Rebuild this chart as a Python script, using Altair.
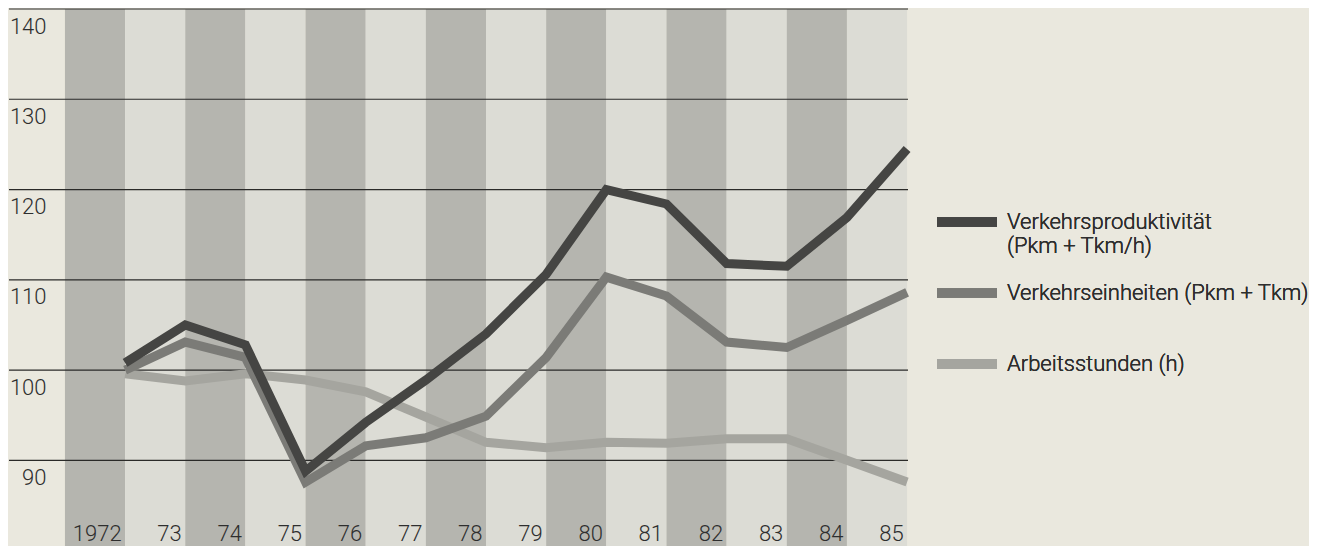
import json
import altair as alt
import pandas as pd

# ---------------- data ----------------
years = list(range(1972, 1986))
x_labels = ["1972", "73", "74", "75", "76", "77", "78", "79", "80", "81", "82", "83", "84", "85"]
y_ticks = [90, 100, 110, 120, 130, 140]

produktivitaet = [100.8, 105.0, 102.8, 88.8, 94.2, 98.9, 104.0, 110.6, 120.0, 118.4, 111.8, 111.5, 116.9, 124.5]
einheiten = [100.0, 103.1, 101.4, 87.6, 91.6, 92.5, 94.9, 101.4, 110.3, 108.2, 103.1, 102.5, 105.5, 108.6]
stunden = [99.6, 98.8, 99.6, 98.9, 97.6, 94.8, 92.0, 91.4, 92.0, 91.9, 92.4, 92.4, 90.0, 87.6]

series_names = ["Verkehrsproduktivität (Pkm + Tkm/h)", "Verkehrseinheiten (Pkm + Tkm)", "Arbeitsstunden (h)"]
legend_lines = [["Verkehrsproduktivität", "(Pkm + Tkm/h)"], ["Verkehrseinheiten (Pkm + Tkm)", ""], ["Arbeitsstunden (h)", ""]]
series_colors = ["#454543", "#7b7b77", "#a5a59f"]

band_shades = ["dark" if y % 2 == 0 else "light" for y in years]
band_top = 140
band_bottom = 80

# ---------------- tables ----------------
lines_df = pd.DataFrame({
    "year": years * 3,
    "value": produktivitaet + einheiten + stunden,
    "series": [series_names[0]] * 14 + [series_names[1]] * 14 + [series_names[2]] * 14,
})
bands_df = pd.DataFrame({
    "start": [y - 1 for y in years],
    "end": years,
    "shade": band_shades,
    "top": [band_top] * len(years),
    "bottom": [band_bottom] * len(years),
})
grid_df = pd.DataFrame({"tick": y_ticks})

FONT = "Roboto"
WEIGHT = 300
TXT = "#2e2e2e"

x_scale = alt.Scale(domain=[1970.07, 1985.015], nice=False, zero=False)
y_scale = alt.Scale(domain=[80.4, 140], nice=False, zero=False)

x_axis = alt.Axis(
    values=years, orient="bottom", offset=-7, ticks=False, tickSize=0, domain=False, grid=False,
    labelPadding=0, labelAlign="right", labelBaseline="alphabetic", labelOffset=-4,
    labelFontSize=22, labelFont=FONT, labelFontWeight=WEIGHT, labelColor=TXT,
    labelOverlap=False, labelFlush=False, zindex=2,
    labelExpr=json.dumps(x_labels) + "[datum.value - 1972]", title=None,
)
y_axis = alt.Axis(
    values=y_ticks, orient="left", offset=-37, ticks=False, tickSize=0, domain=False, grid=False,
    labelPadding=0, labelAlign="right", labelBaseline="middle", labelOffset=17,
    labelFontSize=22, labelFont=FONT, labelFontWeight=WEIGHT, labelColor=TXT,
    labelOverlap=False, labelFlush=False, zindex=2, title=None,
)

legend_expr = ""
for name, lines in zip(series_names[:-1], legend_lines[:-1]):
    legend_expr += "datum.label == " + json.dumps(name) + " ? " + json.dumps(lines) + " : "
legend_expr += json.dumps(legend_lines[-1])

legend = alt.Legend(
    title=None, orient="none", legendX=923, legendY=178, direction="vertical",
    symbolType="stroke", symbolSize=3600, symbolStrokeWidth=9.5, symbolOpacity=1,
    labelFontSize=22, labelFont=FONT, labelFontWeight=WEIGHT, labelColor=TXT,
    labelOffset=5, labelLimit=600,
    labelBaseline="middle", rowPadding=1, padding=0, labelExpr=legend_expr,
)

bands = alt.Chart(bands_df).mark_rect(clip=True).encode(
    x=alt.X("start:Q", scale=x_scale, axis=x_axis),
    x2="end:Q",
    y=alt.Y("top:Q", scale=y_scale, axis=y_axis),
    y2="bottom:Q",
    color=alt.Color("shade:N", scale=alt.Scale(domain=["dark", "light"], range=["#b5b5af", "#dcdcd5"]), legend=None),
)

grid = alt.Chart(grid_df).mark_rule(color="#2a2a28", strokeWidth=1.2).encode(
    y=alt.Y("tick:Q", scale=y_scale, axis=y_axis),
)

def line_layer(name):
    return alt.Chart(lines_df).transform_filter(
        alt.datum.series == name
    ).mark_line(strokeWidth=9, strokeJoin="miter", strokeCap="butt").encode(
        x=alt.X("year:Q", scale=x_scale, axis=x_axis),
        y=alt.Y("value:Q", scale=y_scale, axis=y_axis),
        color=alt.Color("series:N", scale=alt.Scale(domain=series_names, range=series_colors), legend=legend),
    )

chart = alt.layer(
    bands, grid, line_layer(series_names[2]), line_layer(series_names[1]), line_layer(series_names[0])
).resolve_scale(color="independent").properties(
    width=899, height=538, background="#eae8de", padding=0,
).configure_view(stroke="transparent")

chart.save("out.html", embed_options={"renderer": "svg", "actions": False})
